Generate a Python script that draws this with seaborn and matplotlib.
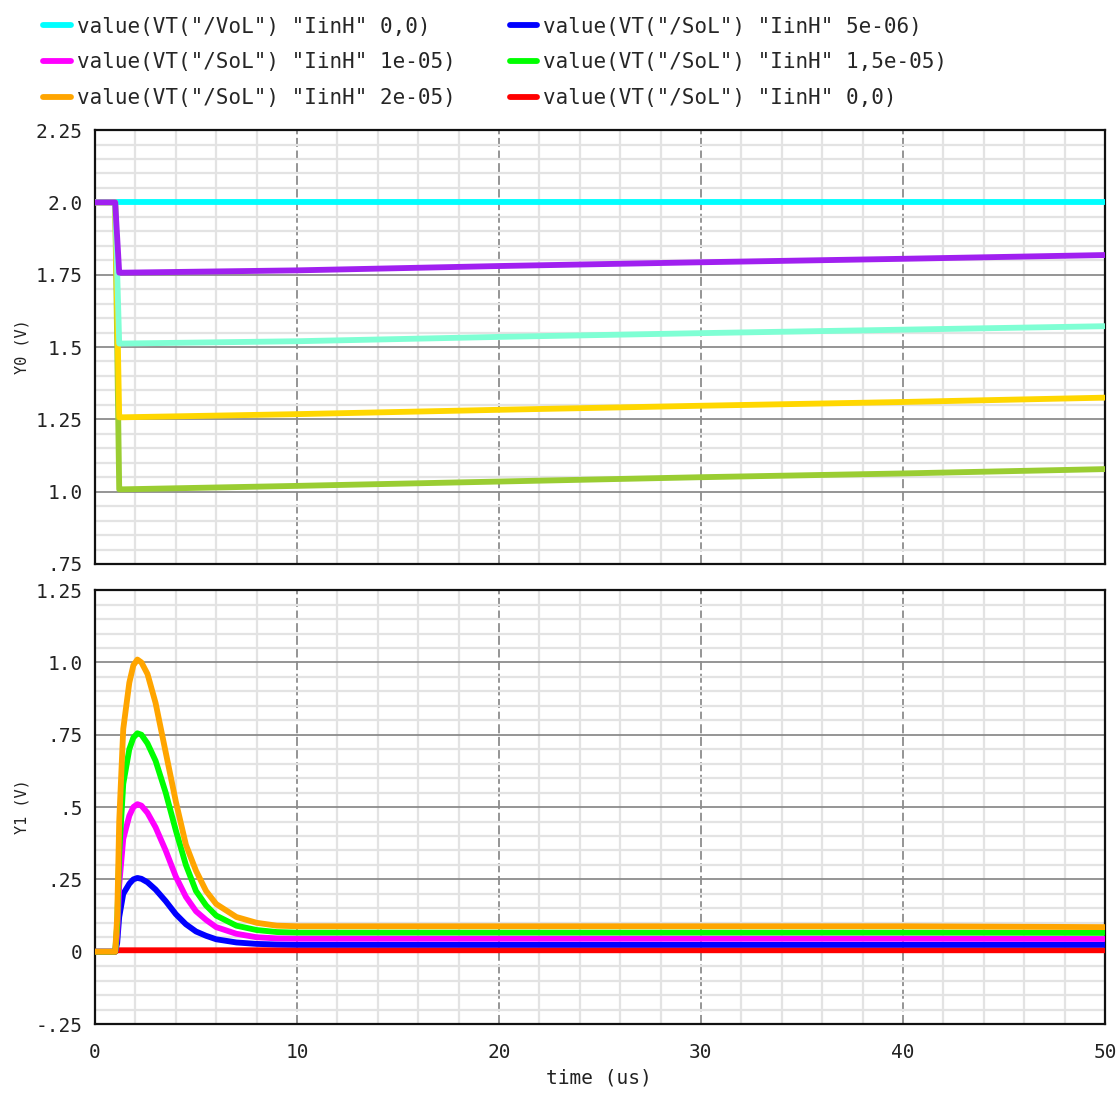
import matplotlib
matplotlib.use("Agg")
import matplotlib.pyplot as plt
import matplotlib.ticker as ticker
import seaborn as sns

# ---------------------------------------------------------------------------
# DATA
# ---------------------------------------------------------------------------
# top strip: Y0 (V)
t_top = [0, 1.0, 1.2, 1.3, 10, 20, 30, 40, 50]
y0_cyan = [2.0, 2.0, 2.0, 2.0, 2.0, 2.0, 2.0, 2.0, 2.0]
y0_yellowgreen = [2.0, 2.0, 1.008, 1.008, 1.02, 1.035, 1.05, 1.063, 1.078]
y0_gold = [2.0, 2.0, 1.257, 1.257, 1.268, 1.283, 1.297, 1.31, 1.325]
y0_aquamarine = [2.0, 2.0, 1.512, 1.512, 1.52, 1.535, 1.548, 1.56, 1.572]
y0_purple = [2.0, 2.0, 1.757, 1.757, 1.765, 1.78, 1.793, 1.805, 1.818]

# bottom strip: Y1 (V)
t_bot = [0, 1.0, 1.1, 1.2, 1.4, 1.7, 1.9, 2.1, 2.3, 2.6, 3.0, 3.5, 4.0,
         4.5, 5.0, 5.5, 6.0, 7.0, 8.0, 9.0, 10, 20, 30, 40, 50]
y1_red = [0, 0, 0.005, 0.005, 0.005, 0.005, 0.005, 0.005, 0.005, 0.005,
          0.005, 0.005, 0.005, 0.005, 0.005, 0.005, 0.005, 0.005, 0.005,
          0.005, 0.005, 0.005, 0.005, 0.005, 0.005]
y1_blue = [0, 0, 0.03, 0.12, 0.20, 0.235, 0.25, 0.255, 0.252, 0.24, 0.215,
           0.175, 0.13, 0.095, 0.07, 0.055, 0.043, 0.032, 0.027, 0.025,
           0.024, 0.024, 0.024, 0.024, 0.024]
y1_magenta = [0, 0, 0.06, 0.23, 0.39, 0.47, 0.50, 0.51, 0.505, 0.48, 0.43,
              0.35, 0.26, 0.19, 0.14, 0.11, 0.085, 0.062, 0.05, 0.046,
              0.045, 0.045, 0.045, 0.045, 0.044]
y1_green = [0, 0, 0.09, 0.34, 0.58, 0.70, 0.74, 0.755, 0.75, 0.72, 0.66,
            0.55, 0.42, 0.30, 0.21, 0.16, 0.125, 0.09, 0.075, 0.068, 0.066,
            0.066, 0.066, 0.066, 0.065]
y1_orange = [0, 0, 0.12, 0.45, 0.77, 0.93, 0.99, 1.01, 1.0, 0.96, 0.86,
             0.69, 0.52, 0.37, 0.28, 0.21, 0.165, 0.12, 0.10, 0.09, 0.088,
             0.088, 0.088, 0.088, 0.085]

legend_labels = {
    "cyan": 'value(VT("/VoL") "IinH" 0,0)',
    "blue": 'value(VT("/SoL") "IinH" 5e-06)',
    "magenta": 'value(VT("/SoL") "IinH" 1e-05)',
    "green": 'value(VT("/SoL") "IinH" 1,5e-05)',
    "orange": 'value(VT("/SoL") "IinH" 2e-05)',
    "red": 'value(VT("/SoL") "IinH" 0,0)',
}

top_ticks = [0.75, 1.0, 1.25, 1.5, 1.75, 2.0, 2.25]
top_ticklabels = [".75", "1.0", "1.25", "1.5", "1.75", "2.0", "2.25"]
bot_ticks = [-0.25, 0, 0.25, 0.5, 0.75, 1.0, 1.25]
bot_ticklabels = ["-.25", "0", ".25", ".5", ".75", "1.0", "1.25"]
x_ticks = [0, 10, 20, 30, 40, 50]

# ---------------------------------------------------------------------------
# STYLE
# ---------------------------------------------------------------------------
sns.set_theme(style="white")
plt.rcParams["font.family"] = ["DejaVu Sans Mono"]
LW = 4.2
COLORS = {
    "cyan": "#00ffff", "purple": "#a020f0", "aquamarine": "#7fffd4",
    "gold": "#ffd700", "yellowgreen": "#9acd32",
    "blue": "#0000ff", "magenta": "#ff00ff", "green": "#00ff00",
    "orange": "#ffa500", "red": "#ff0000",
}

fig = plt.figure(figsize=(11.16, 10.93), dpi=100)
ax0 = fig.add_axes([0.0851, 0.484, 0.905, 0.397])
ax1 = fig.add_axes([0.0851, 0.0631, 0.905, 0.397])


def style_axis(ax, yticks, ylabels, ylim, show_x):
    ax.set_xlim(0, 50)
    ax.set_ylim(*ylim)
    ax.set_yticks(yticks)
    ax.set_yticklabels(ylabels)
    ax.yaxis.set_minor_locator(ticker.MultipleLocator(0.05))
    ax.set_xticks(x_ticks)
    ax.xaxis.set_minor_locator(ticker.MultipleLocator(2))
    ax.grid(which="minor", color="#e3e3e3", lw=1.6, zorder=0)
    ax.grid(which="major", axis="y", color="#8c8c8c", lw=1.3, zorder=0)
    ax.grid(which="major", axis="x", color="#8c8c8c", lw=1.3,
            ls=(0, (5, 2)), zorder=0)
    ax.set_axisbelow(True)
    for sp in ax.spines.values():
        sp.set_color("#111111")
        sp.set_linewidth(1.6)
    ax.tick_params(axis="y", which="major", direction="out", length=7,
                   width=1.4, color="#111111", labelsize=14, pad=2,
                   labelcolor="#222222")
    ax.tick_params(axis="y", which="minor", direction="out", length=4,
                   width=1.4, color="#111111")
    if show_x:
        ax.tick_params(axis="x", which="major", direction="out", length=9,
                       width=1.4, color="#111111", labelsize=14, pad=5,
                       labelcolor="#222222")
        ax.tick_params(axis="x", which="minor", direction="out", length=5,
                       width=1.4, color="#111111")
    else:
        ax.tick_params(axis="x", which="both", length=0, labelbottom=False)
    ax.set_xlabel("")
    ax.set_ylabel("")


# top strip
top_series = [
    ("cyan", y0_cyan), ("yellowgreen", y0_yellowgreen), ("gold", y0_gold),
    ("aquamarine", y0_aquamarine), ("purple", y0_purple),
]
handles = {}
for name, vals in top_series:
    sns.lineplot(x=t_top, y=vals, ax=ax0, color=COLORS[name], lw=LW,
                 estimator=None, sort=False, zorder=3)
    handles[name] = ax0.lines[-1]

# bottom strip
bot_series = [
    ("red", y1_red), ("blue", y1_blue), ("magenta", y1_magenta),
    ("green", y1_green), ("orange", y1_orange),
]
for name, vals in bot_series:
    sns.lineplot(x=t_bot, y=vals, ax=ax1, color=COLORS[name], lw=LW,
                 estimator=None, sort=False, zorder=3)
    handles[name] = ax1.lines[-1]

style_axis(ax0, top_ticks, top_ticklabels, (0.75, 2.25), False)
style_axis(ax1, bot_ticks, bot_ticklabels, (-0.25, 1.25), True)

fig.text(22 / 1116, 1 - 347 / 1093, "Y0 (V)", rotation=90, ha="center",
         va="center", fontsize=11, color="#222222")
fig.text(22 / 1116, 1 - 807 / 1093, "Y1 (V)", rotation=90, ha="center",
         va="center", fontsize=11, color="#222222")
fig.text(0.537, 1 - 1078 / 1093, "time (us)", ha="center", va="center",
         fontsize=14, color="#222222")

# legend: two columns, filled column-wise
order = ["cyan", "magenta", "orange", "blue", "green", "red"]
fig.legend([handles[k] for k in order], [legend_labels[k] for k in order],
           loc="upper left", bbox_to_anchor=(0.024, 1.0), ncol=2,
           frameon=False, fontsize=15, handlelength=1.3, handletextpad=0.3,
           labelspacing=0.75, columnspacing=2.6, borderpad=0.3)

fig.savefig("out.png", dpi=100, facecolor="white")
